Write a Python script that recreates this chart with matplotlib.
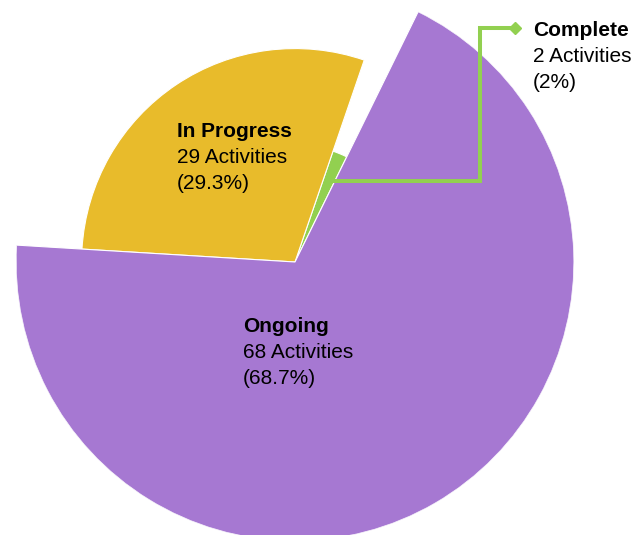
import numpy as np
import matplotlib
matplotlib.use("Agg")
import matplotlib.pyplot as plt

# ---- data ----
categories = ["Complete", "In Progress", "Ongoing"]
counts = [2, 29, 68]
radii_rel = [0.42, 0.765, 1.0]          # relative wedge radius (variable-radius pie)
colors = ["#92D050", "#E8BB2B", "#A678D2"]
start_deg = 63.8                          # counter-clockwise start angle of first wedge

plt.rcParams['font.family'] = ['Liberation Sans', 'DejaVu Sans']

W, H = 636, 535
fig = plt.figure(figsize=(W / 100, H / 100), dpi=100)

# polar axes: centre at (295, 262) px, radius 279 px
cx, cy, R = 295, 262, 279
ax = fig.add_axes([(cx - R) / W, (H - cy - R) / H, 2 * R / W, 2 * R / H], projection='polar')
ax.set_theta_zero_location('E')
ax.set_theta_direction(1)
ax.set_ylim(0, 1)
ax.axis('off')

total = sum(counts)
widths = [2 * np.pi * c / total for c in counts]
lefts = np.deg2rad(start_deg) + np.concatenate([[0], np.cumsum(widths)[:-1]])
ax.bar(lefts, radii_rel, width=widths, bottom=0, align='edge', color=colors,
       edgecolor='white', linewidth=0.8)

# ---- overlay for labels / leader (pixel coordinates) ----
ov = fig.add_axes([0, 0, 1, 1])
ov.set_xlim(0, W)
ov.set_ylim(H, 0)
ov.axis('off')
ov.patch.set_alpha(0)

# leader line from the Complete wedge
th0 = lefts[0] + widths[0] * 0.15
r0 = radii_rel[0] * 0.76
p = ax.transData.transform((th0, r0))
p_ov = ov.transData.inverted().transform(p)
x0, y0 = p_ov
ov.plot([x0, 480, 480, 513], [y0, y0, 28, 28], color=colors[0], lw=2.9,
        solid_joinstyle='miter')
ov.plot([515], [28], marker='D', color=colors[0], ms=6.5)

fs = 15
def label(x, y, name, n, pct):
    ov.text(x, y, name, fontsize=fs, fontweight='bold', color='black', va='baseline', ha='left')
    ov.text(x, y + 26, f"{n} Activities", fontsize=fs, color='black', va='baseline', ha='left')
    ov.text(x, y + 52, f"({pct})", fontsize=fs, color='black', va='baseline', ha='left')

pcts = ["2%", "29.3%", "68.7%"]
label(533, 36, categories[0], counts[0], pcts[0])
label(177, 137, categories[1], counts[1], pcts[1])
label(243, 332, categories[2], counts[2], pcts[2])

fig.savefig("out.png", dpi=100)
